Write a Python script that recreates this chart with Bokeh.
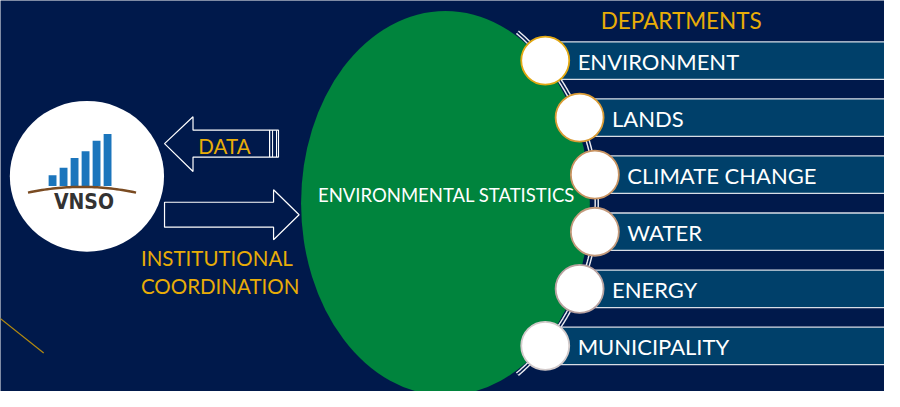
import numpy as np
from bokeh.plotting import figure
from bokeh.models import Range1d
from bokeh.core.properties import value
from bokeh.embed import file_html
from bokeh.resources import INLINE

# ---- data ----
departments = ["ENVIRONMENT", "LANDS", "CLIMATE CHANGE", "WATER", "ENERGY", "MUNICIPALITY"]
ring_colors = ["#E2A812", "#D99B35", "#C99462", "#C39A7C", "#B9A2A0", "#D2CACA"]
logo_bar_heights = [11, 19, 29, 36, 47, 54]
center_label = "ENVIRONMENTAL STATISTICS"
header_label = "DEPARTMENTS"
arrow_in_label = "DATA"
arrow_out_label = ["INSTITUTIONAL", "COORDINATION"]
logo_label = "VNSO"

NAVY = "#00194B"
GREEN = "#00843D"
BAR = "#00406A"
GOLD = "#E9AD07"
FONT = "Lato"

W, H = 900, 407
p = figure(width=884, height=391, x_range=Range1d(0, W), y_range=Range1d(H, 0),
           output_backend="svg", toolbar_location=None, min_border=0)
p.axis.visible = False
p.grid.visible = False
p.outline_line_color = None
p.background_fill_color = NAVY
p.border_fill_color = NAVY

# decorative gold line
p.line([-10, 44], [323, 367], line_color="#B38A10", line_width=1.2)

# green ellipse
p.ellipse(x=[453], y=[211], width=[294], height=[400], fill_color=GREEN, line_color=None)
p.text(x=[454], y=[202], text=[center_label], text_color="white", text_align="center",
       text_baseline="middle", text_font=value(FONT), text_font_size="18.5px")

# arc geometry through the circles
acx, acy, R = 370.4, 211.0, 236.6
def arc_x(y):
    return acx + np.sqrt(R ** 2 - (np.asarray(y) - acy) ** 2)

ys_arc = np.linspace(33, 389, 120)
xs_arc = arc_x(ys_arc)

n = len(departments)
row_y = 62.5 + 59.4 * np.arange(n)
circ_x = arc_x(row_y)
bar_h = 39

# department bars
p.quad(left=circ_x, right=[W + 5] * n, top=row_y - bar_h / 2, bottom=row_y + bar_h / 2,
       fill_color=BAR, line_color="#D8DDE6", line_width=1.3)

# double line arc
p.line(xs_arc, ys_arc, line_color="#E8EAF0", line_width=4.5)
p.line(xs_arc, ys_arc, line_color=NAVY, line_width=1.6)

# circles
p.scatter(x=circ_x, y=row_y, size=48, marker="circle", fill_color="white",
          line_color=ring_colors, line_width=1.8)

# department labels
p.text(x=circ_x + 33, y=row_y + 1, text=departments, text_color="white", text_align="left",
       text_baseline="middle", text_font=value(FONT), text_font_size="22px")
p.text(x=[693], y=[21], text=[header_label], text_color=GOLD, text_align="center",
       text_baseline="middle", text_font=value(FONT), text_font_size="22.5px")

# VNSO logo circle
p.ellipse(x=[88], y=[183], width=[157], height=[157], fill_color="white", line_color=None)
bx = 53 + 11.2 * np.arange(len(logo_bar_heights))
p.vbar(x=bx, width=8, bottom=193, top=193 - np.array(logo_bar_heights),
       fill_color="#1B75BC", line_color=None)
t = np.linspace(-1, 1, 40)
p.line(83 + 55 * t, 194 + 6 * t ** 2, line_color="#7A4B22", line_width=2.5)
p.text(x=[85], y=[210], text=[logo_label], text_color="#333333", text_align="center",
       text_baseline="middle", text_font=value("DejaVu Sans Condensed"),
       text_font_size="21px", text_font_style="bold")

# left arrow (DATA)
p.patch([274, 196, 196, 167, 196, 196, 274], [135, 135, 121, 149, 178, 163, 163],
        fill_color=NAVY, line_color="white", line_width=1.2)
p.line([274, 283, 283, 274], [135, 135, 163, 163], line_color="white", line_width=1.2)
p.line([277, 277], [135, 163], line_color="white", line_width=1.0)
p.line([281, 281], [135, 163], line_color="white", line_width=1.0)
p.text(x=[228], y=[151], text=[arrow_in_label], text_color=GOLD, text_align="center",
       text_baseline="middle", text_font=value(FONT), text_font_size="20.5px")

# right arrow
p.patch([167, 278, 278, 304, 278, 278, 167], [210, 210, 197, 223, 249, 236, 236],
        fill_color=NAVY, line_color="white", line_width=1.2)
p.text(x=[143, 143], y=[268, 297], text=arrow_out_label, text_color=GOLD, text_align="left",
       text_baseline="middle", text_font=value(FONT), text_font_size="20.5px")

open("out.html", "w").write(file_html(p, INLINE))
